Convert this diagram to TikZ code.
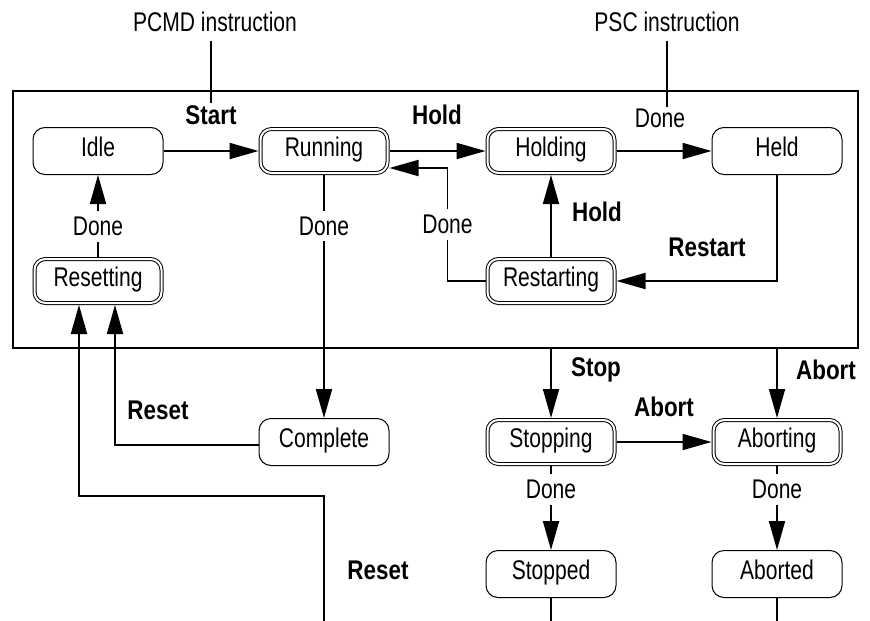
\documentclass[tikz,border=0pt]{standalone}
\usepackage{fontspec}
\usetikzlibrary{arrows.meta,positioning}
\newfontfamily\statefont{Liberation Sans}[FakeStretch=0.78]
\newfontfamily\eventfont{Liberation Sans}[FakeStretch=0.83]
\newcommand\diagsize{\fontsize{27}{31}\selectfont}

\tikzset{
  state/.style={draw, line width=1pt, rounded corners=12pt, minimum width=130pt, minimum height=47pt,
    inner sep=0pt, text height=18.5pt, text depth=8pt, font=\statefont\diagsize},
  busy/.style={state, double, double distance=2pt, rounded corners=11pt, minimum width=127pt,
    minimum height=44pt, outer sep=2pt},
  note/.style={fill=white, inner sep=6pt, font=\statefont\diagsize},
  event/.style={inner sep=2pt, font=\eventfont\bfseries\diagsize},
  frame/.style={draw, line width=1.8pt, minimum width=845pt, minimum height=257pt, inner sep=0pt},
  wire/.style={line width=1.8pt},
  flow/.style={wire, -{Triangle[length=29pt,width=16pt]}},
}

\begin{document}
\begin{tikzpicture}[x=1pt, y=-1pt]
  \useasboundingbox (0,0) rectangle (870,621);

  % Outer frame and instructions
  \node[frame] (frame) at (435.5,219.2) {};
  \node[note, inner sep=9pt] (pcmd) at (215,22) {PCMD instruction};
  \node[note, inner sep=9pt] (psc) at (667,22) {PSC instruction};

  % States
  \node[state] (idle) at (98,151) {Idle};
  \node[busy] (running) at (324,151) {Running};
  \node[busy] (holding) at (551,151) {Holding};
  \node[state] (held) at (777,151) {Held};
  \node[busy] (resetting) at (98,281) {Resetting};
  \node[busy] (restarting) at (551,281) {Restarting};
  \node[state] (complete) at (324,442) {Complete};
  \node[busy] (stopping) at (551,442) {Stopping};
  \node[busy] (aborting) at (777,442) {Aborting};
  \node[state] (stopped) at (551,574) {Stopped};
  \node[state] (aborted) at (777,574) {Aborted};

  % Commands
  \node[event] (start) at (211,115) {Start};
  \node[event] (hold-top) at (437,115) {Hold};
  \node[event] (hold-low) at (597,212) {Hold};
  \node[event] (restart) at (707,247) {Restart};
  \node[event] (reset-left) at (158,410) {Reset};
  \node[event] (reset-low) at (378,570) {Reset};
  \node[event] (stop) at (596,370) {Stop};
  \node[event] (abort-mid) at (664,407) {Abort};
  \node[event] (abort-right) at (826,370) {Abort};
  \node[note, inner sep=1pt] (done-psc) at (660,118) {Done};

  \coordinate (reset-in) at (324,621);
  \coordinate (stopped-out) at (551,621);
  \coordinate (aborted-out) at (777,621);

  % Instruction lines
  \draw[wire] (pcmd.south -| start.north) -- (start.north);
  \draw[wire] (psc.south) -- (psc.south |- done-psc.north);

  % Transitions
  \draw[flow] (idle) -- (running);
  \draw[flow] (running) -- (holding);
  \draw[flow] (holding) -- (held);
  \draw[flow] (held.south) |- (restarting.east);
  \draw[flow] (restarting.north) -- (holding.south);
  \draw[flow] (restarting.west) -- ++(-38,0) |- node[note, pos=0.25] (done-rs) {Done} ([yshift=-17pt]running.east);
  \draw[flow] (running.south) -- node[note, pos=0.21] (done-run) {Done} (complete.north);
  \draw[flow] (resetting.north) -- node[note, pos=0.37] (done-rst) {Done} (idle.south);
  \draw[flow] ([yshift=-3pt]complete.west) -| ([xshift=17pt]resetting.south);
  \draw[flow] (reset-in) -- ++(0,-125) -| ([xshift=-19pt]resetting.south);
  \draw[flow] (frame.south -| stopping.north) -- (stopping.north);
  \draw[flow] (frame.south -| aborting.north) -- (aborting.north);
  \draw[flow] (stopping) -- (aborting);
  \draw[flow] (stopping.south) -- node[note, pos=0.28] (done-stp) {Done} (stopped.north);
  \draw[flow] (aborting.south) -- node[note, pos=0.28] (done-abt) {Done} (aborted.north);
  \draw[wire] (stopped.south) -- (stopped-out);
  \draw[wire] (aborted.south) -- (aborted-out);
\end{tikzpicture}
\end{document}
